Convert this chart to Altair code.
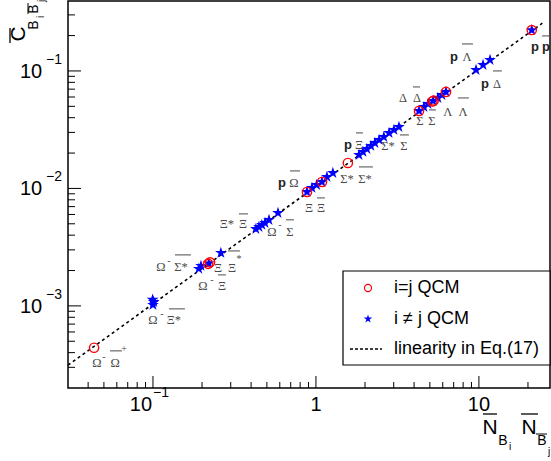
import altair as alt
import pandas as pd

# ---------------- data ----------------
# i = j pairs (red open circles)
same_N = [0.0435, 0.218, 0.224, 0.881, 1.089, 1.57, 4.29, 5.18, 5.28, 6.28, 21.1]
same_C = [4.40e-4, 2.28e-3, 2.35e-3, 9.33e-3, 0.01135, 0.01648, 0.0457, 0.0550, 0.0560, 0.0663, 0.223]

# i != j pairs (blue stars)
diff_N = [0.0995, 0.1, 0.101, 0.191, 0.197, 0.22, 0.261,
          0.428, 0.447, 0.466, 0.487, 0.515, 0.585,
          0.881, 0.945, 1.01, 1.089, 1.168, 1.27,
          1.837, 1.943, 2.055, 2.174, 2.30, 2.44, 2.61, 2.81, 3.01, 3.23,
          4.29, 4.60, 4.87, 5.23, 5.60, 5.93, 6.28,
          9.60, 10.6, 11.7, 21.1]
diff_C = [1.13e-3, 1.02e-3, 1.08e-3, 2.07e-3, 2.19e-3, 2.3e-3, 2.83e-3,
          4.52e-3, 4.70e-3, 4.89e-3, 5.08e-3, 5.39e-3, 6.18e-3,
          9.33e-3, 0.0101, 0.0107, 0.01135, 0.01253, 0.01355,
          0.01928, 0.02046, 0.02168, 0.02301, 0.02439, 0.02588, 0.02743, 0.02966, 0.03148, 0.03337,
          0.0457, 0.0494, 0.0524, 0.0555, 0.0589, 0.0625, 0.0663,
          0.102, 0.1125, 0.124, 0.223]

# linearity in Eq.(17)
line_N = [0.0301, 24.5]
line_C = [3.13e-4, 0.255]

# pair labels: glyph, anchor N, anchor C, style
lab_text = ["p", "p", "p", "Λ", "p", "Δ", "Δ", "Δ", "Λ", "Λ", "Σ", "Σ",
            "p", "Ξ", "Σ*", "Σ", "p", "Ω", "Σ*", "Σ*", "Ξ", "Ξ", "Ξ*", "Ξ",
            "Ω", "-", "Σ", "Ω", "-", "Σ*", "Ξ", "Ξ", "*", "Ω", "-", "Ξ",
            "Ω", "-", "Ξ*", "Ω", "-", "Ω", "+"]
lab_N = [22.05, 25.8, 7.03, 8.44, 10.89, 12.9, 3.42, 4.17, 6.45, 7.98, 4.35, 5.15,
         1.571, 1.836, 2.765, 3.47, 0.6185, 0.733, 1.55, 2.0, 0.906, 1.073, 0.2844, 0.3565,
         0.537, 0.601, 0.693, 0.112, 0.1253, 0.1485, 0.2505, 0.3052, 0.337, 0.2026, 0.230, 0.265,
         0.1, 0.1136, 0.1345, 0.0453, 0.0500, 0.0585, 0.0664]
lab_C = [0.160, 0.160, 0.1315, 0.1315, 0.0775, 0.0775, 0.0589, 0.0589, 0.0448, 0.0448, 0.03754, 0.03754,
         0.02346, 0.02346, 0.0230, 0.0230, 0.01113, 0.01113, 0.01205, 0.01205, 0.00682, 0.00682, 0.00499, 0.00499,
         0.00426, 0.00489, 0.00426, 0.002148, 0.002415, 0.002148, 0.002105, 0.002105, 0.002512, 0.00148, 0.001665, 0.00148,
         0.00076, 0.000855, 0.00076, 0.000327, 0.000368, 0.000327, 0.00043]
lab_kind = ["p", "p", "p", "g", "p", "g", "g", "g", "g", "g", "g", "g",
            "p", "g", "g", "g", "p", "g", "g", "g", "g", "g", "g", "g",
            "g", "s", "g", "g", "s", "g", "g", "g", "s", "g", "s", "g",
            "g", "s", "g", "g", "s", "g", "s"]

# anti-particle bars over labels
bar_N1 = [24.4, 7.87, 12.19, 3.94, 7.43, 4.94, 1.76, 3.276, 0.693, 1.836, 1.014, 0.337,
          0.654, 0.1365, 0.2884, 0.2505, 0.1253, 0.0545]
bar_N2 = [27.3, 9.19, 13.84, 4.35, 8.68, 5.45, 1.943, 3.72, 0.798, 2.237, 1.135, 0.3826,
          0.733, 0.171, 0.3418, 0.2804, 0.157, 0.0645]
bar_C = [0.1987, 0.1698, 0.1, 0.0731, 0.0589, 0.04657, 0.02968, 0.02853, 0.01409, 0.01524, 0.0083, 0.00607,
         0.0054, 0.002716, 0.002937, 0.001836, 0.000943, 0.000414]

# axis ticks
x_major = [0.1, 1, 10]
x_minor = [0.04, 0.05, 0.06, 0.07, 0.08, 0.09, 0.2, 0.3, 0.4, 0.5, 0.6, 0.7, 0.8, 0.9,
           2, 3, 4, 5, 6, 7, 8, 9, 20]
y_major = [1e-3, 1e-2, 1e-1]
y_minor = [3e-4, 4e-4, 5e-4, 6e-4, 7e-4, 8e-4, 9e-4,
           2e-3, 3e-3, 4e-3, 5e-3, 6e-3, 7e-3, 8e-3, 9e-3,
           2e-2, 3e-2, 4e-2, 5e-2, 6e-2, 7e-2, 8e-2, 9e-2, 0.2, 0.3]
y_exp = ["−3", "−2", "−1"]

# ---------------- chart ----------------
W, H = 482, 387
xs = alt.Scale(type="log", domain=[0.0301, 27.3], nice=False)
ys = alt.Scale(type="log", domain=[2.0e-4, 0.394], nice=False)

def X(f):
    return alt.X(f, type="quantitative", scale=xs, axis=None)

def Y(f):
    return alt.Y(f, type="quantitative", scale=ys, axis=None)

STAR = ("M0,-1L0.2245,-0.309L0.9511,-0.309L0.3633,0.118L0.5878,0.809L0,0.382"
        "L-0.5878,0.809L-0.3633,0.118L-0.9511,-0.309L-0.2245,-0.309Z")
GREY = "#4a4a4a"
one = pd.DataFrame({"a": [0]})

df_line = pd.DataFrame({"N": line_N, "C": line_C})
df_same = pd.DataFrame({"N": same_N, "C": same_C})
df_diff = pd.DataFrame({"N": diff_N, "C": diff_C})
df_lab = pd.DataFrame({"t": lab_text, "N": lab_N, "C": lab_C, "k": lab_kind})
df_bar = pd.DataFrame({"N1": bar_N1, "N2": bar_N2, "C": bar_C})

line = alt.Chart(df_line).mark_line(color="black", strokeDash=[3, 3], strokeWidth=1.6).encode(
    x=X("N"), y=Y("C"))
stars = alt.Chart(df_diff).mark_point(shape=STAR, filled=True, color="#0000ff", size=150,
                                      opacity=1, strokeWidth=0).encode(x=X("N"), y=Y("C"))
circles = alt.Chart(df_same).mark_point(shape="circle", filled=False, color="#ff0000", size=85,
                                        opacity=1, strokeWidth=1.4).encode(x=X("N"), y=Y("C"))

lab_g = alt.Chart(df_lab).transform_filter(alt.datum.k == "g").mark_text(
    font="Liberation Serif", fontSize=12.5, color=GREY, align="center", baseline="middle").encode(
    x=X("N"), y=Y("C"), text="t:N")
lab_p = alt.Chart(df_lab).transform_filter(alt.datum.k == "p").mark_text(
    font="Liberation Sans", fontWeight="bold", fontSize=13, color="#222222", align="center",
    baseline="middle").encode(x=X("N"), y=Y("C"), text="t:N")
lab_s = alt.Chart(df_lab).transform_filter(alt.datum.k == "s").mark_text(
    font="Liberation Serif", fontSize=10, color=GREY, align="center", baseline="middle").encode(
    x=X("N"), y=Y("C"), text="t:N")
bars = alt.Chart(df_bar).mark_rule(color=GREY, strokeWidth=1).encode(
    x=X("N1"), x2=alt.X2("N2"), y=Y("C"))

# ticks (inside the frame)
ytick_maj = alt.Chart(pd.DataFrame({"v": y_major})).mark_rule(color="black", strokeWidth=1).encode(
    y=Y("v"), x=alt.value(0), x2=alt.value(13))
ytick_min = alt.Chart(pd.DataFrame({"v": y_minor})).mark_rule(color="black", strokeWidth=1).encode(
    y=Y("v"), x=alt.value(0), x2=alt.value(7))
xtick_maj = alt.Chart(pd.DataFrame({"v": x_major})).mark_rule(color="black", strokeWidth=1).encode(
    x=X("v"), y=alt.value(H), y2=alt.value(H - 12))
xtick_min = alt.Chart(pd.DataFrame({"v": x_minor})).mark_rule(color="black", strokeWidth=1).encode(
    x=X("v"), y=alt.value(H), y2=alt.value(H - 6))

# tick labels
TF = "Liberation Sans"
ylab_base = alt.Chart(pd.DataFrame({"v": y_major})).mark_text(
    font=TF, fontSize=20, color="black", align="center", baseline="middle", dy=1).encode(
    y=Y("v"), x=alt.value(-37), text=alt.value("10"))
ylab_exp = alt.Chart(pd.DataFrame({"v": y_major, "e": y_exp})).mark_text(
    font=TF, fontSize=14, color="black", align="center", baseline="middle", dy=-11).encode(
    y=Y("v"), x=alt.value(-14), text="e:N")
xlab_a = alt.Chart(pd.DataFrame({"v": [0.1]})).mark_text(
    font=TF, fontSize=20, color="black", align="center", baseline="middle", dx=-12).encode(
    x=X("v"), y=alt.value(404), text=alt.value("10"))
xlab_a_exp = alt.Chart(pd.DataFrame({"v": [0.1]})).mark_text(
    font=TF, fontSize=14, color="black", align="center", baseline="middle", dx=8).encode(
    x=X("v"), y=alt.value(392), text=alt.value("−1"))
xlab_b = alt.Chart(pd.DataFrame({"v": [1, 10], "t": ["1", "10"]})).mark_text(
    font=TF, fontSize=20, color="black", align="center", baseline="middle").encode(
    x=X("v"), y=alt.value(404), text="t:N")

# axis titles
def ptext(t, x, y, size, angle=0):
    kw = dict(font=TF, fontSize=size, color="black", align="center", baseline="middle")
    if angle:
        kw["angle"] = angle
    return alt.Chart(one).mark_text(**kw).encode(x=alt.value(x), y=alt.value(y), text=alt.value(t))

def hbar(x1, x2, y, w=1.3):
    return alt.Chart(one).mark_rule(color="black", strokeWidth=w).encode(
        x=alt.value(x1), x2=alt.value(x2), y=alt.value(y))

def vbar(x, y1, y2, w=1.3):
    return alt.Chart(one).mark_rule(color="black", strokeWidth=w).encode(
        x=alt.value(x), y=alt.value(y1), y2=alt.value(y2))

xtitle = [
    ptext("N", 422, 427, 21), hbar(415, 429, 413),
    ptext("B", 435, 440, 14), ptext("i", 442, 446, 10),
    ptext("N", 461, 427, 21), hbar(453, 470, 413),
    ptext("B", 474, 440, 14), hbar(468, 479, 433, 1.0), ptext("j", 481, 451, 10),
]
ytitle = [
    ptext("C", -49, 33, 21, 270), vbar(-58, 27, 42),
    ptext("B", -34, 24, 14, 270), ptext("i", -27, 16, 10, 270),
    ptext("B", -34, 8, 14, 270), vbar(-40, 2, 13, 1.0), ptext("j", -26, 0, 10, 270),
]

# legend
leg_box = alt.Chart(one).mark_rect(fill="white", stroke="black", strokeWidth=1.2).encode(
    x=alt.value(275), x2=alt.value(482), y=alt.value(270), y2=alt.value(364))
leg_circle = alt.Chart(one).mark_point(shape="circle", filled=False, color="#ff0000", size=50,
                                       opacity=1, strokeWidth=1.2).encode(
    x=alt.value(300), y=alt.value(287))
leg_star = alt.Chart(one).mark_point(shape=STAR, filled=True, color="#0000ff", size=80,
                                     opacity=1, strokeWidth=0).encode(
    x=alt.value(300), y=alt.value(318))
leg_line = alt.Chart(one).mark_rule(color="black", strokeDash=[3, 2], strokeWidth=1.3).encode(
    x=alt.value(282), x2=alt.value(314), y=alt.value(348))
leg_texts = [
    alt.Chart(one).mark_text(font=TF, fontSize=18, color="black", align="left", baseline="middle").encode(
        x=alt.value(326), y=alt.value(yy), text=alt.value(tt))
    for tt, yy in [("i=j QCM", 287), ("i ≠ j QCM", 318), ("linearity in Eq.(17)", 348)]
]

chart = alt.layer(
    line, stars, circles, bars, lab_g, lab_p, lab_s,
    ytick_maj, ytick_min, xtick_maj, xtick_min,
    ylab_base, ylab_exp, xlab_a, xlab_a_exp, xlab_b,
    *xtitle, *ytitle,
    leg_box, leg_circle, leg_star, leg_line, *leg_texts,
).properties(
    width=W, height=H,
    padding={"left": 68, "top": 1, "right": 1, "bottom": 73},
    autosize=alt.AutoSizeParams(type="none"),
    background="white",
).configure_view(stroke="black", strokeWidth=1.5)

chart.save("out.html", embed_options={"renderer": "svg", "actions": False})
